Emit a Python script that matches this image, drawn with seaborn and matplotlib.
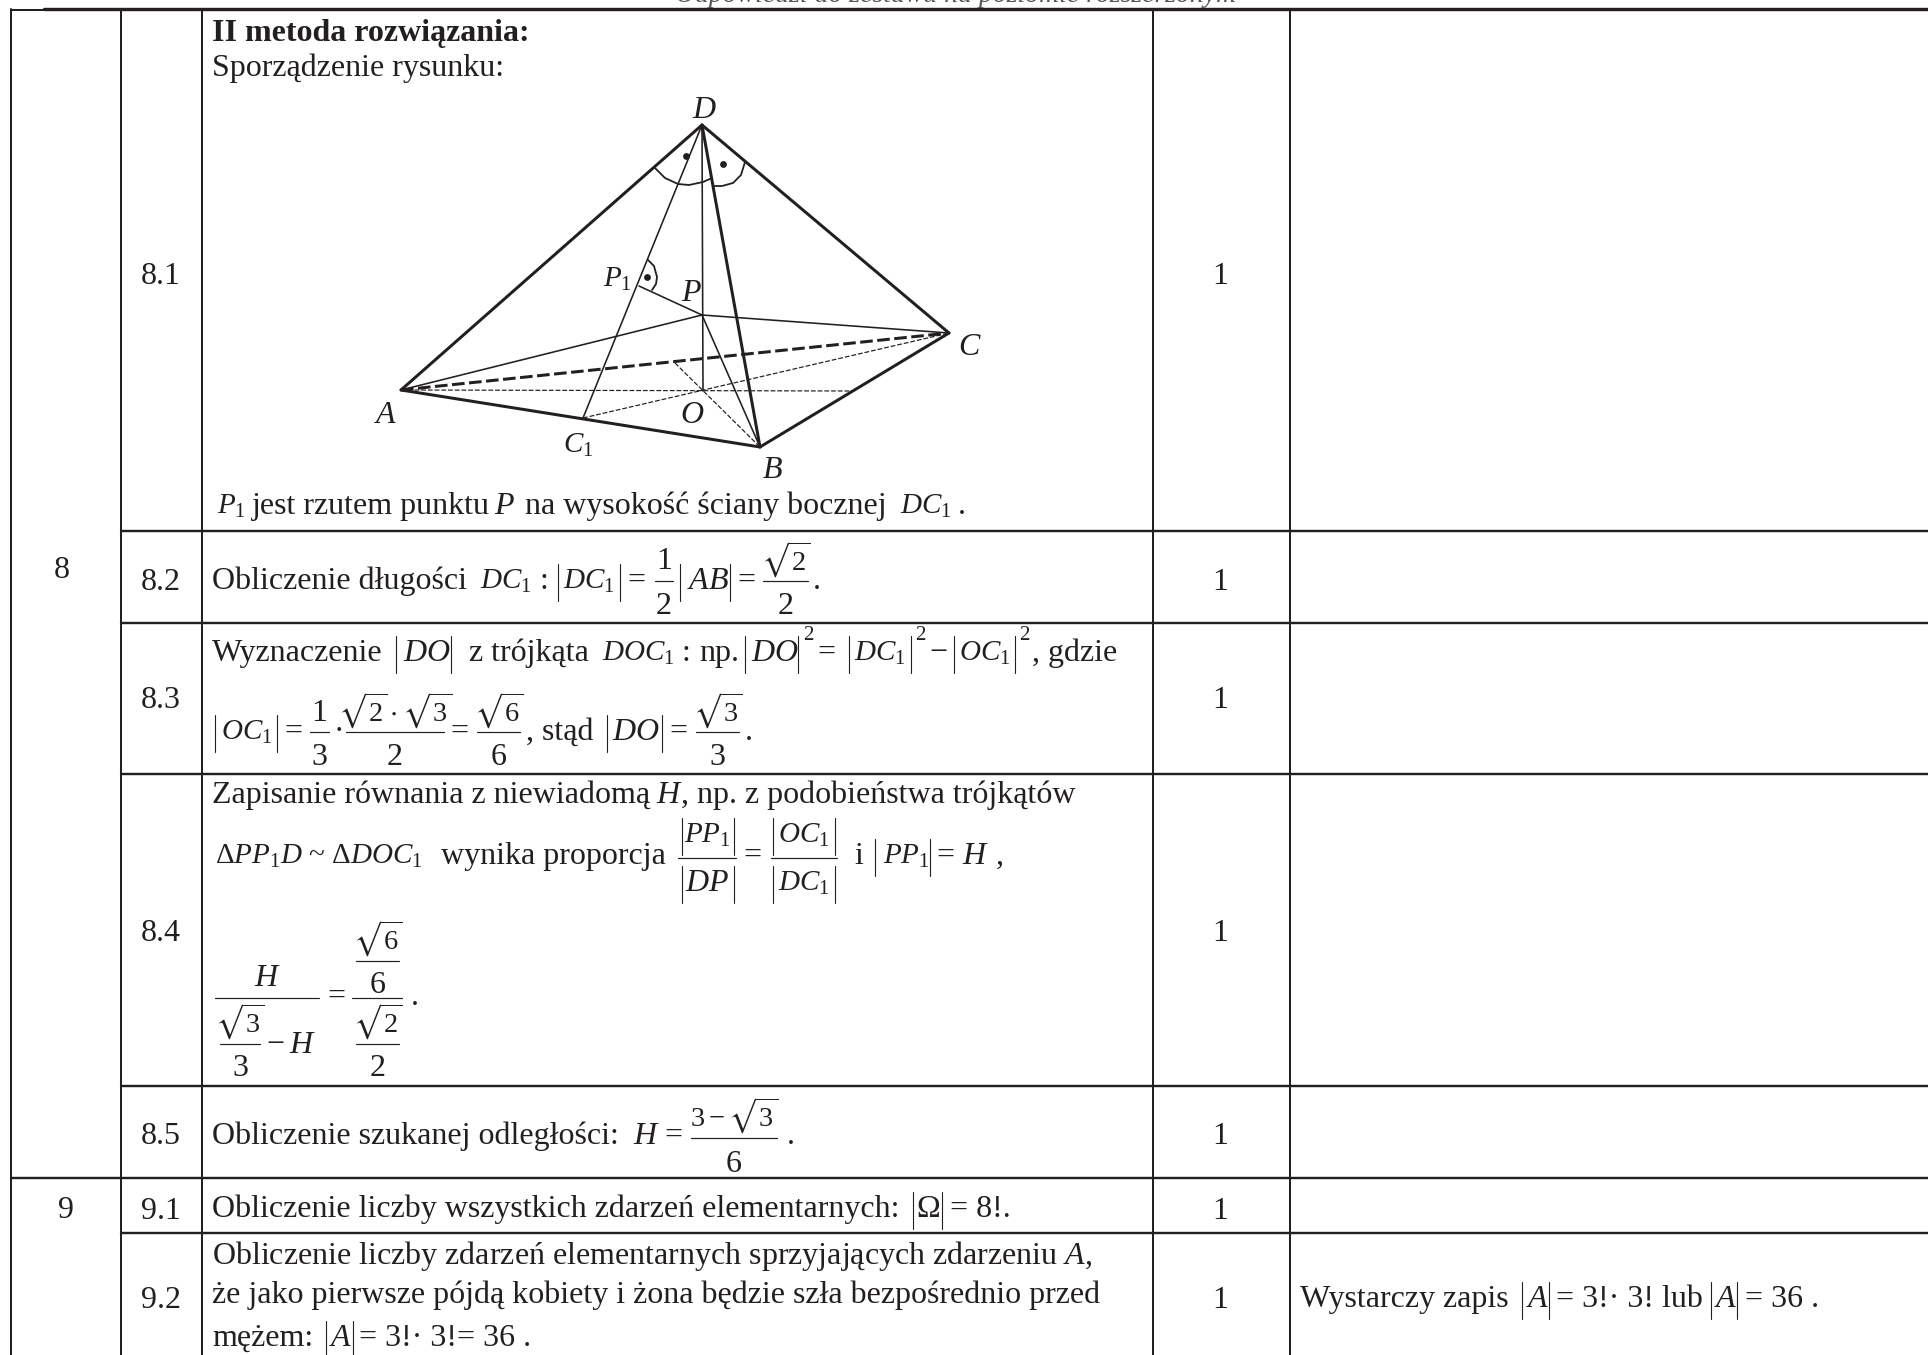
"""
Answer key table page: pyramid drawing plus scoring rows 8.1 - 9.2.
Everything is drawn in pixel coordinates of the scanned page.
"""

import pandas as pd
import matplotlib.pyplot as plt
import seaborn as sns

sns.set_theme(style="white")
plt.rcParams["font.family"] = ["Liberation Serif", "DejaVu Serif"]
plt.rcParams["mathtext.fontset"] = "custom"
plt.rcParams["mathtext.rm"] = "Liberation Serif"
plt.rcParams["mathtext.it"] = "Liberation Serif:italic"
plt.rcParams["mathtext.bf"] = "Liberation Serif:bold"
plt.rcParams["mathtext.fallback"] = "stix"

INK = "#231f20"
BODY = 23
MATH = 21
ROOT = 20.5
SMALL = 15

# ---------------------------------------------------------
# 1. Table values
# ---------------------------------------------------------
column_x = [11, 121, 202, 1153, 1290]
page_bottom = 1355
page_right = 1928
row_y = [531, 623, 774, 1086, 1233]
group_y = 1178
top_y = 9

row_labels = ["8.1", "8.2", "8.3", "8.4", "8.5", "9.1", "9.2"]
row_baselines = [284, 590, 708, 941, 1144, 1219, 1308]
row_points = ["1", "1", "1", "1", "1", "1", "1"]
task_labels = ["8", "9"]
task_x = [62, 66]
task_baselines = [578, 1218]

# ---------------------------------------------------------
# 2. Pyramid points and edges
# ---------------------------------------------------------
pts = {
    "A": (401, 390), "B": (760, 447), "C": (949, 333), "D": (702, 125),
    "O": (703, 391), "P": (702, 315), "P1": (639, 286), "C1": (583, 418),
    "E": (675, 363), "H": (852, 391),
}
thick_edges = [("D", "A"), ("D", "B"), ("D", "C"), ("A", "B"), ("B", "C")]
thin_edges = [("D", "O"), ("D", "C1"), ("P1", "P"), ("A", "P"), ("P", "C"), ("P", "B")]
dashed_edges = [("A", "H"), ("C1", "C"), ("E", "B")]
heavy_dashed_edges = [("A", "C")]
arc_left = [(655, 168), (665, 178), (678, 184), (689, 185), (703, 182), (712, 178)]
arc_right = [(713, 186), (722, 186), (733, 183), (741, 175), (745, 162)]
arc_small = [(648, 260), (654, 266), (657, 277), (656, 284), (652, 290)]
dots_x = [685.5, 723, 647]
dots_y = [156, 164, 277]
vertex_labels = [
    ("$D$", 692, 118), ("$P_1$", 603, 287), ("$P$", 681, 301), ("$C$", 958, 355),
    ("$A$", 374, 423), ("$O$", 680, 423), ("$C_1$", 563, 453), ("$B$", 762, 478),
]

# ---------------------------------------------------------
# 3. Text pieces: x, baseline, string
# ---------------------------------------------------------
text_pieces = [
    (212, 76, "Sporządzenie rysunku:"),
    (217, 514, "$P_1$"), (252, 514, "jest rzutem punktu"), (494, 514, "$P$"),
    (525, 514, "na wysokość ściany bocznej"), (900, 514, "$DC_1$"), (958, 514, "."),
    (212, 589, "Obliczenie długości"), (480, 589, "$DC_1$"), (540, 589, ":"),
    (563, 589, "$DC_1$"), (627, 589, "="), (687, 589, "$AB$"), (737, 589, "="), (813, 589, "."),
    (212, 661, "Wyznaczenie"), (403, 661, "$DO$"), (469, 661, "z trójkąta"),
    (602, 661, "$DOC_1$"), (681, 661, ":"), (699, 661, "np."), (751, 661, "$DO$"),
    (803, 640, "2"), (817, 661, "="), (854, 661, "$DC_1$"), (915, 640, "2"),
    (929, 661, "−"), (959, 661, "$OC_1$"), (1019, 640, "2"), (1032, 661, ", gdzie"),
    (221, 740, "$OC_1$"), (284, 740, "="), (334, 740, "·"), (450, 740, "="),
    (526, 740, ", stąd"), (612, 740, "$DO$"), (669, 740, "="), (745, 740, "."),
    (212, 803, "Zapisanie równania z niewiadomą"), (656, 803, "$H$"),
    (681, 803, ", np. z podobieństwa trójkątów"),
    (215, 864, r"$\Delta PP_1D$ ~ $\Delta DOC_1$"), (441, 864, "wynika proporcja"),
    (743, 864, "="), (854, 864, "i"), (883, 864, "$PP_1$"), (936, 864, "="),
    (962, 864, "$H$"), (996, 864, ","),
    (327, 1005, "="), (266, 1053, "−"), (289, 1053, "$H$"), (411, 1005, "."),
    (212, 1144, "Obliczenie szukanej odległości:"), (633, 1144, "$H$"), (664, 1144, "="),
    (787, 1144, "."),
    (212, 1217, "Obliczenie liczby wszystkich zdarzeń elementarnych:"),
    (916, 1217, r"$\Omega$"), (950, 1217, "= 8!."),
    (212, 1264, "Obliczenie liczby zdarzeń elementarnych sprzyjających zdarzeniu $A$,"),
    (212, 1303, "że jako pierwsze pójdą kobiety i żona będzie szła bezpośrednio przed"),
    (212, 1346, "mężem:"), (329, 1346, "$A$"), (359, 1346, "= 3!· 3!= 36 ."),
    (1300, 1307, "Wystarczy zapis"), (1526, 1307, "$A$"), (1556, 1307, "= 3!· 3! lub"),
    (1714, 1307, "$A$"), (1745, 1307, "= 36 ."),
]

# fraction parts: x0, x1 of bar, bar y, numerator, its baseline, denominator, its baseline
fractions = [
    (655, 673, 581, "1", 569, "2", 614),
    (763, 808, 581, r"$\sqrt{2}$", 571, "2", 614),
    (310, 329, 732, "1", 721, "3", 765),
    (346, 444, 732, r"$\sqrt{2}\cdot\sqrt{3}$", 722, "2", 765),
    (477, 520, 732, r"$\sqrt{6}$", 722, "6", 765),
    (696, 739, 732, r"$\sqrt{3}$", 722, "3", 765),
    (678, 736, 858, "$PP_1$", 843, "$DP$", 891),
    (771, 837, 858, "$OC_1$", 843, "$DC_1$", 891),
    (215, 319, 998, "$H$", 986, "", 0),
    (352, 402, 998, "", 0, "", 0),
    (356, 399, 961, r"$\sqrt{6}$", 950, "6", 993),
    (356, 399, 1044, r"$\sqrt{2}$", 1033, "2", 1076),
    (220, 260, 1044, r"$\sqrt{3}$", 1033, "3", 1076),
    (691, 777, 1138, r"$3-\sqrt{3}$", 1127, "6", 1172),
]

# absolute value strokes: x, baseline
abs_strokes = [
    (558, 589), (620, 589), (680, 589), (730, 589),
    (396, 661), (451, 661), (745, 661), (798, 661), (849, 661), (911, 661), (954, 661), (1015, 661),
    (215, 740), (277, 740), (607, 740), (662, 740),
    (682, 843), (734, 843), (682, 891), (734, 891),
    (773, 843), (835, 843), (773, 891), (835, 891),
    (875, 864), (930, 864),
    (913, 1217), (942, 1217), (326, 1346), (353, 1346),
    (1522, 1307), (1549, 1307), (1711, 1307), (1737, 1307),
]


def draw_segments(ax, segments, width, **kws):
    rows = []
    for n, seg in enumerate(segments):
        for x, y in seg:
            rows.append({"x": x, "y": y, "seg": n})
    sns.lineplot(data=pd.DataFrame(rows), x="x", y="y", units="seg", estimator=None,
                 sort=False, color=INK, linewidth=width * 0.72, legend=False, ax=ax, **kws)


def edge_list(edges):
    return [[pts[a], pts[b]] for a, b in edges]


def size_of(s):
    if "sqrt" in s:
        return ROOT
    if s.startswith("$") and "_1" in s:
        return MATH
    if s.startswith(r"$\Delta"):
        return MATH
    return BODY


fig, ax = plt.subplots(figsize=(19.28, 13.55), dpi=100)
fig.subplots_adjust(0, 0, 1, 1)

# ---------------------------------------------------------
# 4. Grid
# ---------------------------------------------------------
verticals = [[(x, top_y), (x, page_bottom)] for x in column_x]
draw_segments(ax, verticals, 2.0)
rules = [[(column_x[1], y), (page_right, y)] for y in row_y]
rules.append([(column_x[0], group_y), (page_right, group_y)])
draw_segments(ax, rules, 2.4)
draw_segments(ax, [[(44, top_y), (page_right, top_y)]], 3.4)
draw_segments(ax, [[(column_x[0], top_y + 1), (44, top_y + 1)]], 2.0)

# ---------------------------------------------------------
# 5. Pyramid
# ---------------------------------------------------------
draw_segments(ax, edge_list(thick_edges), 3.0)
draw_segments(ax, edge_list(thin_edges), 1.6)
draw_segments(ax, edge_list(dashed_edges), 1.2, linestyle=(0, (4, 1.6)))
draw_segments(ax, edge_list(heavy_dashed_edges), 3.0, linestyle=(0, (4.2, 1.5)))
draw_segments(ax, [arc_left, arc_right, arc_small], 1.8)
sns.scatterplot(x=dots_x, y=dots_y, s=24, color=INK, linewidth=0, legend=False, ax=ax)
for s, x, y in vertex_labels:
    ax.text(x, y, s, fontsize=size_of(s), color=INK, va="baseline")

# ---------------------------------------------------------
# 6. Text
# ---------------------------------------------------------
ax.text(675, 2, "Odpowiedzi do zestawu na poziomie rozszerzonym", fontsize=20, style="italic",
        color="#555555", va="baseline")
ax.text(212, 41, "II metoda rozwiązania:", fontsize=BODY, fontweight="bold", color=INK, va="baseline")
for x, y, s in text_pieces:
    small = s == "2" and y == 640
    ax.text(x, y, s, fontsize=SMALL if small else size_of(s), color=INK, va="baseline")
for s, y, pt in zip(row_labels, row_baselines, row_points):
    ax.text(160.5, y, s, fontsize=BODY, color=INK, ha="center", va="baseline")
    ax.text(1220, y, pt, fontsize=BODY, color=INK, ha="center", va="baseline")
for s, x, y in zip(task_labels, task_x, task_baselines):
    ax.text(x, y, s, fontsize=BODY, color=INK, ha="center", va="baseline")

bars = []
for x0, x1, bar, num, ny, den, dy in fractions:
    bars.append([(x0, bar), (x1, bar)])
    cx = (x0 + x1) / 2
    if num:
        ax.text(cx, ny, num, fontsize=size_of(num), color=INK, ha="center", va="baseline")
    if den:
        ax.text(cx, dy, den, fontsize=size_of(den), color=INK, ha="center", va="baseline")
draw_segments(ax, bars, 1.2)
draw_segments(ax, [[(x, y - 25), (x, y + 12)] for x, y in abs_strokes], 1.1)

ax.set_xlim(0, 1928)
ax.set_ylim(1355, 0)
ax.axis("off")
fig.savefig("out.png", dpi=100, facecolor="white")
